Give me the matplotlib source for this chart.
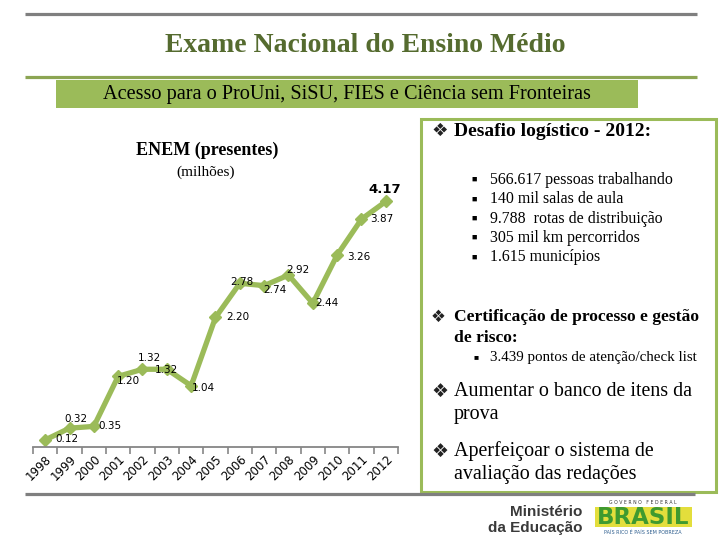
import matplotlib
matplotlib.use("Agg")
import matplotlib.pyplot as plt
from matplotlib.patches import Rectangle
import numpy as np

# ---- data ----
years = ["1998", "1999", "2000", "2001", "2002", "2003", "2004", "2005",
         "2006", "2007", "2008", "2009", "2010", "2011", "2012"]
presentes = [0.12, 0.32, 0.35, 1.20, 1.32, 1.32, 1.04, 2.20,
             2.78, 2.74, 2.92, 2.44, 3.26, 3.87, 4.17]
value_labels = ["0.12", "0.32", "0.35", "1.20", "1.32", "1.32", "1.04", "2.20",
                "2.78", "2.74", "2.92", "2.44", "3.26", "3.87", "4.17"]

title = "Exame Nacional do Ensino Médio"
subtitle = "Acesso para o ProUni, SiSU, FIES e Ciência sem Fronteiras"
chart_title = "ENEM (presentes)"
chart_unit = "(milhões)"
desafio_head = "Desafio logístico - 2012:"
desafio_items = ["566.617 pessoas trabalhando", "140 mil salas de aula",
                 "9.788  rotas de distribuição", "305 mil km percorridos",
                 "1.615 municípios"]
cert_head = ["Certificação de processo e gestão", "de risco:"]
cert_item = "3.439 pontos de atenção/check list"
aumentar = ["Aumentar o banco de itens da", "prova"]
aperf = ["Aperfeiçoar o sistema de", "avaliação das redações"]

# label offsets (pixels) relative to each point
label_offsets = [(22, 1), (6, 9), (16, 0), (10, -5), (7, 11), (0, -1), (12, -2),
                 (22, 0), (2, 1), (11, -4), (9, 5), (14, 0), (22, -2), (20, 0), (-1, 12)]

GREEN = "#9BBB59"
OLIVE = "#556B2F"
SERIF = ["Liberation Serif", "DejaVu Serif", "DejaVu Sans"]

fig = plt.figure(figsize=(7.2, 5.4), dpi=100)
fig.patch.set_facecolor("white")

# decoration layer in pixel coordinates
bg = fig.add_axes([0, 0, 1, 1])
bg.set_xlim(0, 720)
bg.set_ylim(540, 0)
bg.axis("off")

bg.plot([25, 697], [14, 14], color="#7F7F7F", lw=2.3, solid_capstyle="butt")
bg.plot([25, 697], [77, 77], color="#8CA553", lw=2.3, solid_capstyle="butt")
bg.plot([25, 695], [494, 494], color="#7F7F7F", lw=2.3, solid_capstyle="butt")
bg.add_patch(Rectangle((56, 80), 582, 28, facecolor=GREEN, edgecolor="none"))
bg.add_patch(Rectangle((421, 119), 295, 373, facecolor="none", edgecolor=GREEN, lw=2.2))

bg.text(365, 46, title, family=SERIF, fontsize=20, weight="bold", color=OLIVE,
        ha="center", va="center")
bg.text(347, 94, subtitle, family=SERIF, fontsize=14.6, color="black", ha="center", va="center")

bg.text(207, 150, chart_title, family=SERIF, fontsize=13, weight="bold", ha="center", va="center")
bg.text(206, 172, chart_unit, family=SERIF, fontsize=11, ha="center", va="center")

DIAMOND = "\u2756"
def dtext(x, y, s, size, weight="normal"):
    bg.text(x - 3, y, DIAMOND, family=["DejaVu Sans"], fontsize=size * 0.95, ha="left",
            va="center", color="#222222")
    bg.text(x + 20, y, s, family=SERIF, fontsize=size, weight=weight, ha="left", va="center")

dtext(434, 131, desafio_head, 14, "bold")
for i, item in enumerate(desafio_items):
    y = 180 + i * 19.3
    bg.text(471, y, "\u25A0", family=SERIF, fontsize=6.5, ha="left", va="center")
    bg.text(490, y, item, family=SERIF, fontsize=11.4, ha="left", va="center")

dtext(434, 317, cert_head[0], 12.6, "bold")
bg.text(454, 338, cert_head[1], family=SERIF, fontsize=12.6, weight="bold", ha="left", va="center")
bg.text(474, 357, "\u25A0", family=SERIF, fontsize=6, ha="left", va="center")
bg.text(490, 357, cert_item, family=SERIF, fontsize=10.8, ha="left", va="center")

dtext(434, 391, aumentar[0], 14.4)
bg.text(454, 415, aumentar[1], family=SERIF, fontsize=14.4, ha="left", va="center")
dtext(434, 451, aperf[0], 14.4)
bg.text(454, 474, aperf[1], family=SERIF, fontsize=14.4, ha="left", va="center")

# logos
bg.text(582, 512, "Ministério", family=["Liberation Sans"], fontsize=11, weight="bold",
        color="#3A3A3A", ha="right", va="center")
bg.text(582, 528, "da Educação", family=["Liberation Sans"], fontsize=11, weight="bold",
        color="#3A3A3A", ha="right", va="center")
bg.text(643, 502, "G O V E R N O   F E D E R A L", family=["DejaVu Sans"], fontsize=3.3,
        color="#333333", ha="center", va="center")
bg.add_patch(Rectangle((595, 507), 97, 20, facecolor="#E3DE3C", edgecolor="none"))
bg.text(643.5, 517.5, "BRASIL", family=["DejaVu Sans"], fontsize=16.5, weight="bold",
        color="#3F9A2F", ha="center", va="center")
bg.text(643, 532, "PAÍS RICO É PAÍS SEM POBREZA", family=["DejaVu Sans"], fontsize=3.5,
        color="#2F5F8F", ha="center", va="center")

# ---- chart ----
ax = fig.add_axes([33 / 720, 1 - 447 / 540, 365 / 720, (447 - 182) / 540])
ax.patch.set_alpha(0)
x = np.arange(len(years))
ax.plot(x, presentes, color=GREEN, lw=3.8, marker="D", markersize=6.5,
        markerfacecolor=GREEN, markeredgecolor=GREEN, solid_joinstyle="miter")
ax.set_xlim(-0.5, len(years) - 0.5)
ax.set_ylim(0, 4.5)
for sp in ["top", "right", "left"]:
    ax.spines[sp].set_visible(False)
ax.spines["bottom"].set_color("#868686")
ax.spines["bottom"].set_linewidth(1.3)
ax.set_yticks([])
ax.set_xticks(x)
ax.set_xticklabels(years, rotation=45, ha="right", va="top", rotation_mode="anchor",
                   fontsize=8.5, family=["DejaVu Sans"])
ax.tick_params(axis="x", which="major", length=0, pad=4)
ax.set_xticks(np.arange(-0.5, len(years), 1.0), minor=True)
ax.tick_params(axis="x", which="minor", length=5, width=1.2, color="#868686", direction="out")

for i, (xv, yv) in enumerate(zip(x, presentes)):
    dx, dy = label_offsets[i]
    last = i == len(presentes) - 1
    ax.annotate(value_labels[i], (xv, yv), xytext=(dx, dy), textcoords="offset pixels",
                ha="center", va="center", fontsize=9.5 if last else 7.5,
                weight="bold" if last else "normal", family=["DejaVu Sans"], color="black")

fig.savefig("out.png", dpi=100)
